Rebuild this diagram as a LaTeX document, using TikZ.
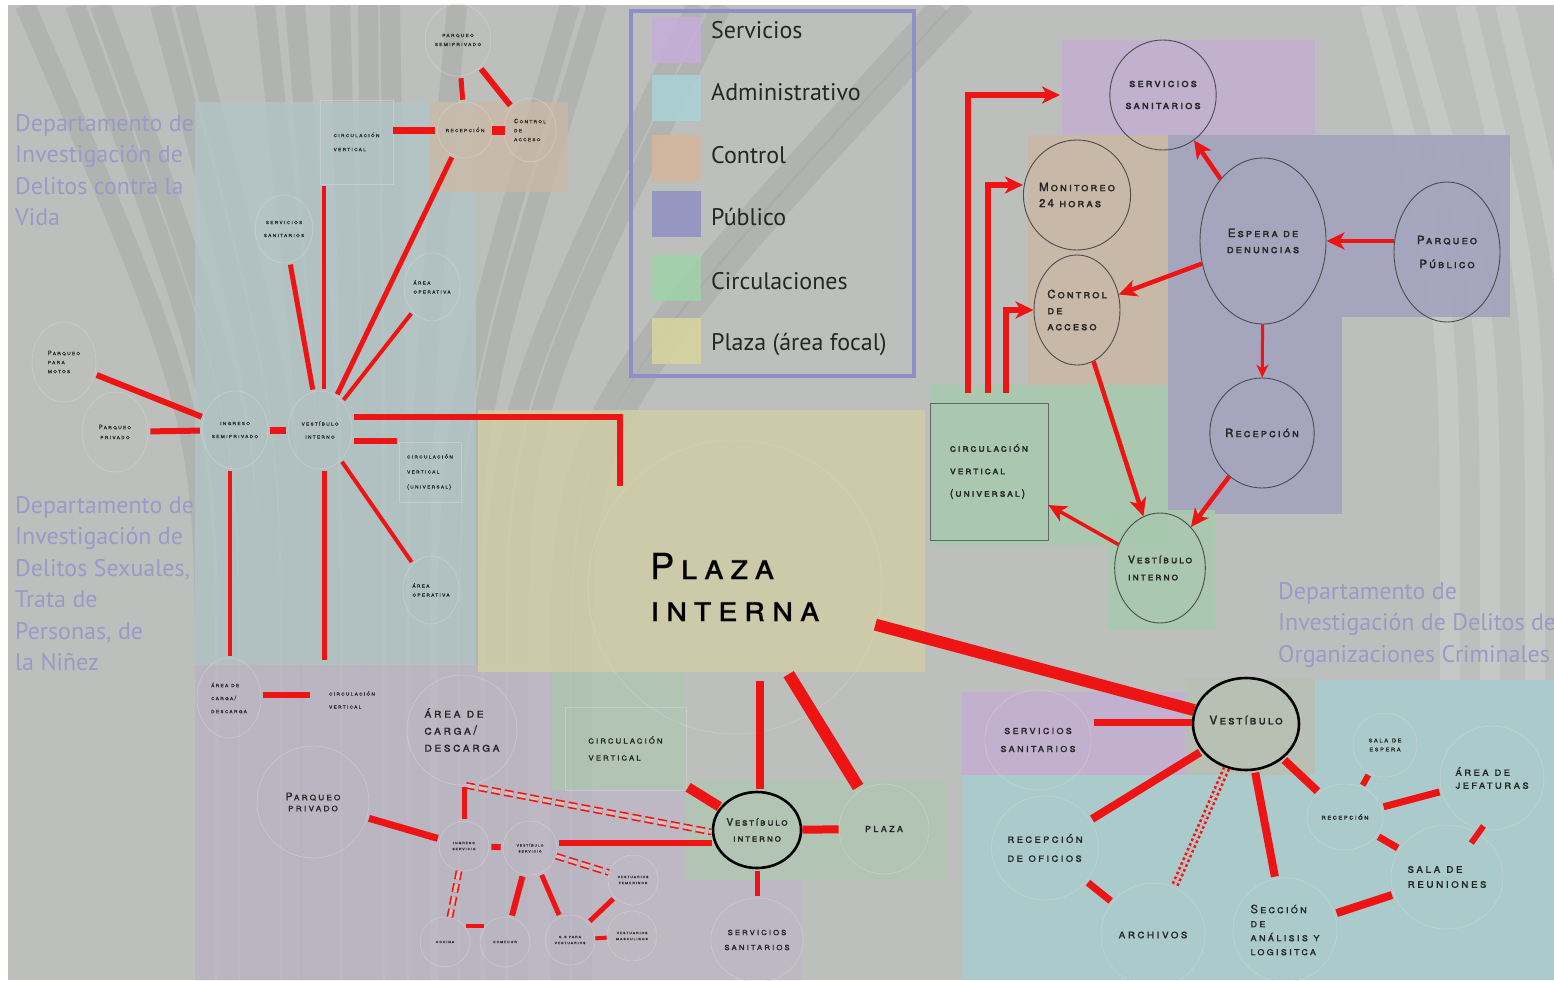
\documentclass[tikz,border=0pt]{standalone}
\usepackage{fontspec}
\setmainfont{TeX Gyre Heros}
\newfontfamily\capsfont[LetterSpace=18,FakeBold=2]{TeX Gyre Heros}
\newfontfamily\deptfont{PT Sans}
\usetikzlibrary{positioning,shapes.geometric,arrows.meta,calc}

\definecolor{bgGray}{HTML}{BDBFBD}
\definecolor{bandGray}{HTML}{A3A5A3}
\definecolor{faintGray}{HTML}{D6D7D5}
\definecolor{lnRed}{HTML}{EE1414}
\definecolor{dblIn}{HTML}{D3BDBD}
\definecolor{deptBlue}{HTML}{9A9AC8}
\definecolor{legBlue}{HTML}{8E8EC8}
\definecolor{hubFill}{HTML}{B8C0B4}
% zones
\definecolor{zAdmL}{HTML}{B2C7C7}
\definecolor{zCtlL}{HTML}{CDB9A6}
\definecolor{zSerL}{HTML}{BDB6C7}
\definecolor{zPlz}{HTML}{CFCDA6}
\definecolor{zCirL}{HTML}{AFC7B1}
\definecolor{zSer}{HTML}{C2AFD0}
\definecolor{zCtl}{HTML}{C9B8A6}
\definecolor{zPub}{HTML}{A4A4BE}
\definecolor{zCir}{HTML}{A8C9AE}
\definecolor{zAdm}{HTML}{A9CBCD}
% legend swatches
\definecolor{swSer}{HTML}{C6AEDA}
\definecolor{swAdm}{HTML}{A8D2D6}
\definecolor{swCtl}{HTML}{D6B69C}
\definecolor{swPub}{HTML}{9090C2}
\definecolor{swCir}{HTML}{A0D2A8}
\definecolor{swPlz}{HTML}{D8D59E}

\newcommand{\lbl}[2]{\capsfont\scshape\fontsize{#1}{#2}\selectfont}

\begin{document}
\begin{tikzpicture}[x=1pt,y=-1pt,
  band/.style={line width=20pt,draw=bandGray,opacity=.45},
  room/.style={ellipse,draw=faintGray,draw opacity=.55,line width=.7pt,inner sep=0pt,align=center,text=black!85},
  roomK/.style={ellipse,draw=black!70,line width=.9pt,inner sep=0pt,align=center,text=black!85},
  roomB/.style={ellipse,draw=black,line width=2.6pt,inner sep=0pt,align=center,text=black!85},
  box/.style={rectangle,draw=faintGray,draw opacity=.55,line width=.7pt,inner sep=0pt,align=left,text=black!85},
  lnk/.style={draw=lnRed,line width=#1,shorten <=2pt,shorten >=2pt},
  arr/.style={draw=lnRed,line width=#1,-{Stealth[length=18pt,width=17pt,inset=5pt]}},
  arrS/.style={draw=lnRed,line width=#1,-{Stealth[length=13pt,width=12pt,inset=4pt]}},
  dbl/.style={draw=lnRed,line width=1.6pt,double=dblIn,double distance=3.5pt,dash pattern=on 9pt off 4pt},
  dts/.style={draw=lnRed,line width=2.6pt,double=dblIn,double distance=2.4pt,dash pattern=on 2.6pt off 2.6pt},
  dept/.style={text=deptBlue,font=\deptfont\fontsize{24}{31.5}\selectfont,align=left,anchor=north west,inner sep=0pt},
  leg/.style={font=\deptfont\fontsize{24}{24}\selectfont,anchor=west,inner sep=0pt,text=black!85}
]
\useasboundingbox (0,0) rectangle (1554,980);
\fill[white] (0,0) rectangle (1554,980);
\fill[bgGray] (8,5) rectangle (1554,980);

% stripes
\begin{scope}
  \clip (8,5) rectangle (1554,980);
  \foreach \t/\b in {25/205,75/228,100/250,160/270,185/292,265/310,295/330,340/352,368/372,390/396,457/420,570/448,597/470,697/495,722/518,940/560,965/582}
    \draw[band] (\t,5) .. controls (\b,420) .. (\b,700) -- (\b,980);
  \foreach \t/\b in {1370/1450,1405/1490,1465/1535,1505/1575}
    \draw[band,draw=white,opacity=.14] (\t,5) .. controls (\b,300) .. (\b,600) -- (\b,980);
\end{scope}

% zones left
\fill[zAdmL,opacity=.75] (195,102) rectangle (476,665);
\fill[zCtlL,opacity=.75] (430,102) rectangle (568,192);
\fill[zSerL,opacity=.75] (195,665) -- (552,665) -- (552,790) -- (686,790) -- (686,880) -- (802,880) -- (802,980) -- (195,980) -- cycle;
\fill[zPlz,opacity=.85] (478,410) rectangle (925,672);
\fill[zCirL,opacity=.75] (552,672) rectangle (686,790);
\fill[zCirL,opacity=.75] (686,780) rectangle (945,880);
% zones right
\fill[zSer,opacity=.92] (1062,40) rectangle (1315,135);
\fill[zCtl,opacity=.92] (1028,135) rectangle (1168,385);
\fill[zPub,opacity=.92] (1168,135) rectangle (1510,317);
\fill[zPub,opacity=.92] (1168,317) rectangle (1342,514);
\fill[zCir,opacity=.92] (930,385) rectangle (1168,545);
\fill[zCir,opacity=.92] (1108,510) rectangle (1215,630);
\fill[zSer,opacity=.92] (962,692) rectangle (1190,775);
\fill[hubFill,opacity=.92] (1185,678) rectangle (1315,775);
\fill[zAdm,opacity=.92] (1315,680) rectangle (1554,980);
\fill[zAdm,opacity=.92] (962,775) rectangle (1315,980);

% legend
\draw[legBlue,line width=4pt] (631,11) rectangle (914,376);
\foreach \c/\t/\s/\l [count=\i] in {swSer/Servicios/17/30,swAdm/Administrativo/75/92,swCtl/Control/135/155,swPub/Público/191/217,swCir/Circulaciones/255/281,swPlz/Plaza (área focal)/318/344}{
  \fill[\c,opacity=.85] (652,\s) rectangle (701,\s+46);
  \node[leg] (leg\i) at (711,\l) {\t};
}

% departments
\node[dept] (deptVida) at (15,114) {Departamento de\\Investigación de\\Delitos contra la\\Vida};
\node[dept] (deptSex) at (15,496) {Departamento de\\Investigación de\\Delitos Sexuales,\\Trata de\\Personas, de\\la Niñez};
\node[dept] (deptOrg) at (1278,582) {Departamento de\\Investigación de Delitos de\\Organizaciones Criminales};

% plaza
\node[room,draw opacity=.45,minimum size=294pt,font=\lbl{36}{42},align=left,text=black] (plazaI) at (735,587) {Plaza\\interna};

% upper left
\node[room,minimum width=64pt,minimum height=72pt,font=\lbl{6.2}{9}] (pSemi) at (458,40) {parqueo\\semiprivado};
\node[room,minimum width=54pt,minimum height=56pt,font=\lbl{6.2}{8}] (rec1) at (465,130) {recepción};
\node[room,minimum width=52pt,minimum height=64pt,font=\lbl{6.2}{9},align=left] (acc1) at (530,130) {Control\\de\\acceso};
\node[box,minimum width=73pt,minimum height=84pt,font=\lbl{6.2}{14}] (circ1) at (356.5,142) {circulación\\vertical};
\node[room,minimum width=56pt,minimum height=68pt,font=\lbl{6.2}{13}] (san1) at (284,229) {servicios\\sanitarios};
\node[room,minimum width=56pt,minimum height=68pt,font=\lbl{6.2}{9},align=left] (op1) at (432,287) {área\\operativa};
\node[room,minimum width=64pt,minimum height=80pt,font=\lbl{6.2}{9},align=left] (moto) at (64,362) {Parqueo\\para\\motos};
\node[room,minimum width=66pt,minimum height=80pt,font=\lbl{6.2}{10}] (priv1) at (115,432) {Parqueo\\privado};
\node[room,minimum width=64pt,minimum height=78pt,font=\lbl{6.2}{13}] (ing1) at (235,430) {ingreso\\semiprivado};
\node[room,minimum width=64pt,minimum height=78pt,font=\lbl{6.2}{13}] (ves1) at (320,430) {vestíbulo\\interno};
\node[box,minimum width=62pt,minimum height=60pt,font=\lbl{6.2}{15}] (circ2) at (430,472) {circulación\\vertical\\(universal)};
\node[room,minimum width=56pt,minimum height=68pt,font=\lbl{6.2}{9},align=left] (op2) at (431,590) {área\\operativa};
\node[room,minimum width=64pt,minimum height=80pt,font=\lbl{6.2}{13},align=left] (carga1) at (229,698) {área de\\carga/\\descarga};
\node[box,draw=none,minimum width=80pt,minimum height=76pt,font=\lbl{6.2}{13}] (circ3) at (352,700) {circulación\\vertical};

\draw[lnk=5pt] (pSemi) -- (rec1);
\draw[lnk=6pt] (pSemi) -- (acc1);
\draw[lnk=7pt,shorten <=0pt] (circ1.east |- rec1) -- (rec1);
\draw[lnk=9pt,shorten <=-1pt,shorten >=-1pt] (rec1) -- (acc1);
\draw[lnk=5pt] (ves1) -- (san1);
\draw[lnk=4pt] ([xshift=4pt]ves1.north) -- ([xshift=4pt]ves1.north |- circ1.south);
\draw[lnk=5pt] (ves1) -- (rec1);
\draw[lnk=4pt] (ves1) -- (op1);
\draw[lnk=6pt] (moto) -- (ing1);
\draw[lnk=6pt] (priv1) -- (ing1);
\draw[lnk=7pt] (ing1) -- (ves1);
\draw[lnk=6pt,shorten >=8pt] ([yshift=13pt]ves1.east) -| (plazaI.141);
\draw[lnk=6pt] ([yshift=-11pt]ves1.east) -- ([yshift=-11pt]ves1.east -| circ2.west);
\draw[lnk=4pt] (ves1) -- (op2);
\draw[lnk=5pt] ([xshift=4pt]ves1.south) -- ([xshift=4pt]ves1.south |- circ3.north);
\draw[lnk=4pt] ([xshift=-5pt]ing1.south) -- ([xshift=-5pt]ing1.south |- carga1.north);
\draw[lnk=6pt] ([yshift=3pt]carga1.east) -- ([yshift=3pt]carga1.east -| circ3.west);

% lower left
\node[roomB,minimum width=88pt,minimum height=76pt,font=\lbl{10}{16}] (vesC) at (757,830) {Vestíbulo\\interno};
\node[room,minimum size=90pt,font=\lbl{11.5}{12}] (plz) at (884,829) {plaza};
\node[room,minimum size=84pt,font=\lbl{10}{15}] (sanC) at (757,940) {servicios\\sanitarios};
\node[box,minimum width=121pt,minimum height=83pt,font=\lbl{10}{17}] (circC) at (625.5,748.5) {circulación\\vertical};
\node[room,minimum size=110pt,font=\lbl{13}{17},align=left] (carga2) at (462,730) {área de\\carga/\\descarga};
\node[room,minimum size=112pt,font=\lbl{10.5}{11}] (pPriv2) at (313,802) {Parqueo\\privado};
\node[room,minimum size=50pt,font=\lbl{4.5}{6}] (ingS) at (464,846) {ingreso\\servicio};
\node[room,minimum size=54pt,font=\lbl{4.5}{6}] (vesS) at (530,848) {vestíbulo\\servicio};
\node[room,minimum size=50pt,font=\lbl{4.5}{6}] (vFem) at (633,880) {vestuarios\\femeninos};
\node[room,minimum size=50pt,font=\lbl{4.5}{6}] (coc) at (445,942) {cocina};
\node[room,minimum size=50pt,font=\lbl{4.5}{6}] (com) at (505,942) {comedor};
\node[room,minimum size=50pt,font=\lbl{4.5}{6}] (ssV) at (570,940) {s.s para\\vestuarios};
\node[room,minimum size=50pt,font=\lbl{4.5}{6}] (vMas) at (632,936) {vestuarios\\masculinos};

\draw[lnk=8pt,shorten <=0pt] ($(plazaI.south -| vesC.north)+(3,-53)$) -- ([xshift=3pt]vesC.north);
\draw[lnk=12pt,shorten <=-45pt,shorten >=4pt] (plazaI) -- (plz);
\draw[lnk=8pt,shorten <=0pt,shorten >=0pt] (vesC) -- (plz);
\draw[lnk=5pt] (vesC) -- (sanC);
\draw[lnk=10pt,shorten <=1pt] (vesC) -- (circC);
\draw[lnk=6pt,shorten >=0pt] ([yshift=5pt]vesS.east) -- ([yshift=5pt]vesS.east -| vesC.west);
\draw[dbl] ([xshift=4pt]carga2.south) -- ([yshift=-2pt]vesC.west);
\draw[lnk=7pt] (pPriv2) -- (ingS);
\draw[lnk=5pt] (ingS.north) -- (ingS.north |- carga2.south);
\draw[lnk=6pt] (ingS) -- (vesS);
\draw[dbl] (ingS) -- (coc);
\draw[lnk=4pt] (coc.40) -- (com.140);
\draw[lnk=6pt] (vesS) -- (com);
\draw[lnk=5pt] (vesS) -- (ssV);
\draw[dbl] (vesS) -- (vFem);
\draw[lnk=5pt] (vFem) -- (ssV);
\draw[lnk=4pt,shorten <=0pt,shorten >=0pt] (ssV) -- (vMas);

% upper right
\node[roomK,minimum width=84pt,minimum height=110pt,font=\lbl{11.5}{22}] (sanR) at (1163,95) {servicios\\sanitarios};
\node[roomK,minimum width=86pt,minimum height=110pt,font=\lbl{11.5}{16},align=left] (mon) at (1077,195) {Monitoreo\\24 horas};
\node[roomK,minimum width=86pt,minimum height=110pt,font=\lbl{11.5}{16},align=left] (acc) at (1077,310) {Control\\de\\acceso};
\node[roomK,minimum width=126pt,minimum height=166pt,font=\lbl{11.5}{16}] (esp) at (1263,241) {Espera de\\denuncias};
\node[roomK,minimum width=106pt,minimum height=140pt,font=\lbl{11.5}{24}] (pPub) at (1447,252) {Parqueo\\Público};
\node[roomK,minimum width=84pt,minimum height=110pt,font=\lbl{11.5}{14}] (recR) at (1262,433) {Recepción};
\node[rectangle,draw=black!60,line width=.9pt,minimum width=118pt,minimum height=137pt,align=left,text=black!85,font=\lbl{10.5}{22.5}] (circU) at (989,471.5) {circulación\\vertical\\(universal)};
\node[roomK,minimum width=84pt,minimum height=110pt,font=\lbl{10.5}{17},align=left] (vesR) at (1160,568) {Vestíbulo\\interno};
\coordinate (serZone) at (1060,95);

\draw[arr=6pt] ([xshift=-21pt,yshift=10pt]circU.north) |- (serZone);
\draw[arr=6pt] ([xshift=-1pt,yshift=10pt]circU.north) |- ([yshift=10pt]mon.west);
\draw[arr=6pt] ([xshift=17pt,yshift=10pt]circU.north) |- (acc.west);
\draw[arr=4.5pt] (esp) -- (sanR);
\draw[arr=4.5pt] (esp) -- (acc);
\draw[arr=4.5pt] ([yshift=11pt]pPub.west) -- ([yshift=11pt]pPub.west -| esp.east);
\draw[arrS=3pt] (esp) -- (recR);
\draw[arr=4.5pt] (acc) -- (vesR);
\draw[arr=4.5pt] (recR) -- (vesR);
\draw[arr=3.5pt] (vesR) -- (circU);

% lower right
\node[roomB,fill=hubFill,minimum width=106pt,minimum height=92pt,font=\lbl{12}{14}] (ves) at (1246,724) {\raisebox{8pt}{Vestíbulo}};
\node[room,minimum size=100pt,font=\lbl{11.5}{18}] (sanB) at (1038,740) {servicios\\sanitarios};
\node[room,minimum size=104pt,font=\lbl{12}{19},align=left] (ofi) at (1045,848) {recepción\\de oficios};
\node[room,minimum size=104pt,font=\lbl{12.5}{14}] (arch) at (1153,935) {archivos};
\node[room,minimum size=104pt,font=\lbl{11.5}{14},align=left] (sec) at (1285,930) {Sección\\de\\análisis y\\logisitca};
\node[room,minimum width=76pt,minimum height=66pt,font=\lbl{7.5}{9}] (recB) at (1345,817) {recepción};
\node[room,minimum size=64pt,font=\lbl{7.5}{9}] (espB) at (1385,745) {sala de\\espera};
\node[room,minimum size=104pt,font=\lbl{12}{13},align=left] (jef) at (1492,778) {área de\\jefaturas};
\node[room,minimum size=104pt,font=\lbl{12.5}{15},align=left] (reu) at (1447,877) {sala de\\reuniones};

\draw[lnk=12pt,shorten <=-2pt,shorten >=0pt] (plazaI) -- (ves);
\draw[lnk=7pt,shorten >=0pt] ([yshift=18pt]sanB.east) -- ([yshift=18pt]sanB.east -| ves.west);
\draw[lnk=8pt] (ves) -- (ofi);
\draw[dts] (ves) -- (arch);
\draw[lnk=8pt] (ves) -- (sec);
\draw[lnk=8pt] (ves) -- (recB);
\draw[lnk=7pt] (ofi) -- (arch);
\draw[lnk=6pt] (recB) -- (espB);
\draw[lnk=7pt] (recB) -- (jef);
\draw[lnk=7pt] (recB) -- (reu);
\draw[lnk=6pt,shorten <=-4pt,shorten >=0pt] (jef.258) -- ($(jef.258)!17pt!(reu.center)$);
\draw[lnk=8pt] (reu) -- (sec);
\end{tikzpicture}
\end{document}
